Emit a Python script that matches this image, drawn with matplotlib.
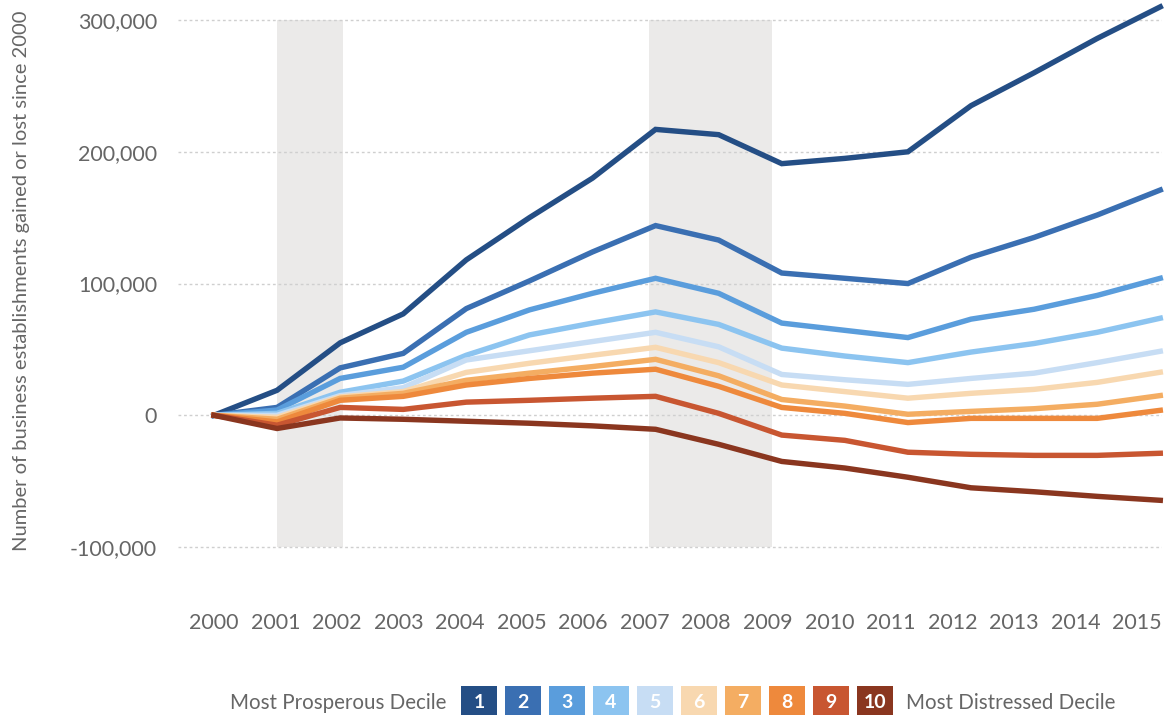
import numpy as np
import matplotlib.pyplot as plt
from matplotlib.patches import Rectangle

years = np.arange(2000, 2016)

# establishments gained/lost since 2000, by decile (1 = most prosperous)
d1 = [0, 19000, 55000, 77000, 118000, 150000, 180000, 217000, 213000, 191000, 195000, 200000, 235000, 260000, 286000, 310000]
d2 = [0, 6000, 36000, 47000, 81000, 102000, 124000, 144000, 133000, 108000, 104000, 100000, 120000, 135000, 152000, 171000]
d3 = [0, 4000, 28000, 36500, 63000, 80000, 92600, 104000, 92600, 70000, 64500, 59000, 73000, 80500, 91000, 104000]
d4 = [0, 1500, 17500, 26000, 45600, 61000, 70000, 78500, 69000, 51000, 45000, 40000, 48000, 54500, 63000, 73700]
d5 = [0, 0, 15000, 21000, 42000, 49000, 56000, 63000, 52000, 31000, 27000, 23500, 28000, 32000, 40000, 48600]
d6 = [0, -1500, 14000, 18000, 32600, 39500, 45600, 51600, 40000, 23000, 18000, 13000, 16700, 19700, 25000, 32700]
d7 = [0, -3000, 13000, 16700, 26600, 32000, 37000, 42500, 30000, 12000, 7000, 800, 3000, 5000, 8400, 15000]
d8 = [0, -5000, 11400, 14400, 23000, 28000, 32000, 35000, 22000, 6000, 1500, -5500, -2300, -2300, -2300, 3800]
d9 = [0, -7500, 6000, 4500, 10000, 11400, 13000, 14400, 1500, -15000, -19000, -28000, -29600, -30400, -30400, -28800]
d10 = [0, -10000, -2000, -3000, -4500, -6000, -8000, -10600, -22000, -35000, -40000, -47000, -55000, -58000, -61500, -64500]

deciles = [d1, d2, d3, d4, d5, d6, d7, d8, d9, d10]
decile_labels = ["1", "2", "3", "4", "5", "6", "7", "8", "9", "10"]
colors = ["#244e85", "#3a6fb2", "#5a9ddc", "#8cc4f0", "#c7ddf4",
          "#f8d8b0", "#f4ad62", "#ee893c", "#c85631", "#8a361f"]

# recession bands (as drawn)
recessions = [(2001.0, 2002.05), (2006.9, 2008.85)]

yticks = [-100000, 0, 100000, 200000, 300000]
ytick_labels = ["-100,000", "0", "100,000", "200,000", "300,000"]
xtick_labels = [str(y) for y in years]

plt.rcParams['font.family'] = ['Lato', 'DejaVu Sans']
grey = "#666666"

fig = plt.figure(figsize=(11.68, 7.15), dpi=100)
ax = fig.add_axes([0.1524, 0.1427, 0.8426, 0.8514])

for a, b in recessions:
    ax.fill_between([a, b], yticks[0], yticks[-1], color="#ebeae9", lw=0, zorder=0)

for vals, c in zip(deciles, colors):
    ax.plot(years, vals, color=c, lw=3.9, solid_joinstyle='miter', zorder=3, clip_on=False)

ax.set_xlim(1999.43, 2015.03)
ax.set_ylim(-150000, 312000)
ax.set_yticks(yticks)
ax.set_yticklabels(ytick_labels)
# labels sit on their own spacing in the original
ax.set_xticks(np.linspace(2000, 2014.63, len(years)))
ax.set_xticklabels(xtick_labels)
ax.tick_params(axis='both', length=0, colors=grey, labelsize=15.5)
ax.tick_params(axis='y', pad=15)
ax.tick_params(axis='x', pad=0)

ax.grid(axis='y', color="#cfcfcf", linestyle=(0, (2, 2)), lw=1)
ax.set_axisbelow(True)
for s in ax.spines.values():
    s.set_visible(False)

fig.text(0.018, 0.607, "Number of business establishments gained or lost since 2000",
         rotation=90, ha='center', va='center', fontsize=14.5, color=grey)

# legend strip
W, H = 1168, 715
fig.text(446 / W, 1 - 703 / H, "Most Prosperous Decile", ha='right', va='center',
         fontsize=14.8, color=grey)
for i, (lab, c) in enumerate(zip(decile_labels, colors)):
    x0 = (461 + 44 * i) / W
    fig.patches.append(Rectangle((x0, -0.005), 36 / W, 0.046, transform=fig.transFigure,
                                 facecolor=c, edgecolor='none'))
    fig.text(x0 + 18 / W, 1 - 703 / H, lab, ha='center', va='center',
             fontsize=14, color='white', fontweight='bold')
fig.text(906 / W, 1 - 703 / H, "Most Distressed Decile", ha='left', va='center',
         fontsize=14.8, color=grey)

fig.savefig("out.png", dpi=100)
